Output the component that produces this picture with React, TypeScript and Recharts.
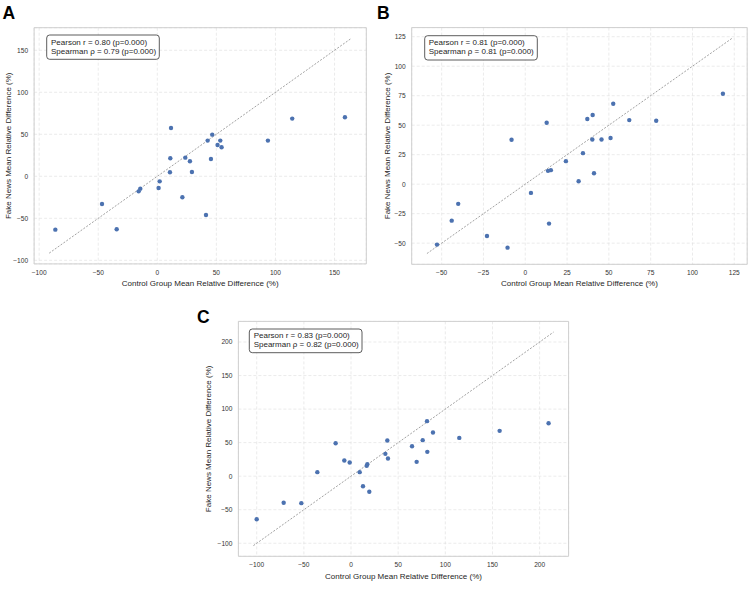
import React from 'react';
import { ScatterChart, Scatter, XAxis, YAxis, CartesianGrid, ReferenceLine, ReferenceArea } from 'recharts';

// Panel A
const ctrlA = [-86.3, -46.8, -34.4, -15.8, -14.4, 1.1, 2.0, 10.7, 11.0, 11.6, 21.2, 23.7, 27.6, 29.3, 41.2, 42.6, 45.4, 46.5, 51.0, 53.3, 54.4, 93.6, 114.2, 158.8];
const fakeA = [-63.5, -32.9, -63.1, -17.9, -14.7, -13.9, -6.0, 4.8, 21.4, 57.5, -25.0, 22.2, 17.9, 5.2, -46.0, 42.5, 20.6, 49.6, 37.3, 42.5, 34.5, 42.5, 68.7, 70.2];
const ticksA = [-100, -50, 0, 50, 100, 150];
const statsA = ['Pearson r = 0.80 (p=0.000)', 'Spearman \u03c1 = 0.79 (p=0.000)'];

// Panel B
const ctrlB = [-52.8, -44.0, -40.1, -22.9, -10.6, -8.2, 3.4, 12.8, 13.6, 15.3, 14.2, 24.3, 31.9, 34.5, 37.1, 40.1, 40.3, 41.1, 45.6, 51.0, 52.6, 62.2, 78.3, 118.2];
const fakeB = [-51.2, -30.9, -16.7, -43.9, -53.8, 37.6, -7.4, 52.1, 11.3, 11.9, -33.4, 19.5, 2.5, 26.3, 55.2, 37.9, 58.6, 9.3, 37.9, 39.1, 68.2, 54.3, 53.8, 76.7];
const ticksB = [-50, -25, 0, 25, 50, 75, 100, 125];
const statsB = ['Pearson r = 0.81 (p=0.000)', 'Spearman \u03c1 = 0.81 (p=0.000)'];

// Panel C
const ctrlC = [-100.0, -71.4, -52.7, -35.7, -16.3, -7.1, -1.4, 9.2, 12.7, 17.3, 16.6, 19.4, 36.4, 38.5, 39.2, 64.7, 69.6, 76.0, 80.6, 80.9, 86.9, 114.8, 157.6, 209.5];
const fakeC = [-64.1, -39.7, -40.2, 6.0, 49.2, 23.3, 20.4, 6.0, -14.9, 17.9, 15.4, -23.3, 33.3, 53.2, 26.3, 44.7, 21.4, 53.7, 82.0, 36.3, 65.1, 57.1, 67.6, 79.0];
const ticksC = [-100, -50, 0, 50, 100, 150, 200];
const statsC = ['Pearson r = 0.83 (p=0.000)', 'Spearman \u03c1 = 0.82 (p=0.000)'];

const xLabel = 'Control Group Mean Relative Difference (%)';
const yLabel = 'Fake News Mean Relative Difference (%)';

const FONT = "'Liberation Sans', Arial, Helvetica, sans-serif";
const W = 748;
const H = 589;

type PanelProps = {
  ctrl: number[];
  fake: number[];
  ticks: number[];
  lineLo: number;
  lineHi: number;
  left: number;
  right: number;
  top: number;
  bottom: number;
};

const fmt = (v: number) => String(v).replace('-', '\u2212');

function Panel({ ctrl, fake, ticks, lineLo, lineHi, left, right, top, bottom }: PanelProps) {
  const span = lineHi - lineLo;
  const lo = lineLo - span * 0.05;
  const hi = lineHi + span * 0.05;
  const data = ctrl.map((x, i) => ({ x, y: fake[i] }));
  const yw = 30;
  const xh = 30;
  const tickStyle = { fontSize: 6.6, fill: '#333', fontFamily: FONT };
  return (
    <div style={{ position: 'absolute', left: 0, top: 0 }}>
      <ScatterChart
        width={W}
        height={H}
        margin={{ top, left: left - yw, right: W - right, bottom: H - bottom - xh }}
      >
        <CartesianGrid stroke="#dedede" strokeDasharray="3 2" strokeWidth={0.6} />
        <XAxis
          type="number"
          dataKey="x"
          domain={[lo, hi]}
          ticks={ticks}
          allowDataOverflow
          interval={0}
          height={xh}
          tickLine={false}
          axisLine={false}
          tickSize={0}
          tickMargin={6.5}
          tick={tickStyle}
          tickFormatter={fmt}
        />
        <YAxis
          type="number"
          dataKey="y"
          domain={[lo, hi]}
          ticks={ticks}
          allowDataOverflow
          interval={0}
          width={yw}
          tickLine={false}
          axisLine={false}
          tickSize={0}
          tickMargin={6}
          tick={tickStyle}
          tickFormatter={fmt}
        />
        <ReferenceLine
          segment={[{ x: lineLo, y: lineLo }, { x: lineHi, y: lineHi }]}
          stroke="#8a8a8a"
          strokeWidth={0.8}
          strokeDasharray="2 1.5"
          ifOverflow="visible"
        />
        <Scatter
          data={data}
          isAnimationActive={false}
          shape={(p: any) => <circle cx={p.cx} cy={p.cy} r={2.2} fill="#4C72B0" />}
        />
        <ReferenceArea
          x1={lo}
          x2={hi}
          y1={lo}
          y2={hi}
          fill="none"
          fillOpacity={0}
          stroke="#cfcfcf"
          strokeWidth={1}
          ifOverflow="visible"
        />
      </ScatterChart>
    </div>
  );
}

function StatsBox({ x, y, w, h, lines, tx, b1 }: { x: number; y: number; w: number; h: number; lines: string[]; tx: number; b1: number }) {
  return (
    <g>
      <rect x={x} y={y} width={w} height={h} rx={3} ry={3} fill="#fff" fillOpacity={0.9} stroke="#333" strokeWidth={0.8} />
      <text x={tx} y={b1} fontSize={8} fill="#262626" fontFamily={FONT}>{lines[0]}</text>
      <text x={tx} y={b1 + 9} fontSize={8} fill="#262626" fontFamily={FONT}>{lines[1]}</text>
    </g>
  );
}

export default function App() {
  const A = { left: 34.1, right: 366.3, top: 27.7, bottom: 263.9 };
  const B = { left: 411.7, right: 747.2, top: 27.6, bottom: 264.3 };
  const C = { left: 238.4, right: 568.6, top: 321.4, bottom: 556.3 };
  const labelStyle = { fontSize: 8, fill: '#262626', fontFamily: FONT } as any;
  return (
    <div style={{ position: 'absolute', left: 0, top: 0, width: W, height: H, background: '#fff', overflow: 'hidden' }}>
      <Panel ctrl={ctrlA} fake={fakeA} ticks={ticksA} lineLo={-91.5} lineHi={164.1} {...A} />
      <Panel ctrl={ctrlB} fake={fakeB} ticks={ticksB} lineLo={-58.8} lineHi={123.6} {...B} />
      <Panel ctrl={ctrlC} fake={fakeC} ticks={ticksC} lineLo={-103.5} lineHi={214.8} {...C} />
      <svg width={W} height={H} style={{ position: 'absolute', left: 0, top: 0, pointerEvents: 'none' }}>
        <text x={2.5} y={18.7} fontSize={17.5} fontWeight="bold" fill="#000" fontFamily={FONT}>A</text>
        <text x={377} y={18.7} fontSize={17.5} fontWeight="bold" fill="#000" fontFamily={FONT}>B</text>
        <text x={197} y={323.3} fontSize={17.5} fontWeight="bold" fill="#000" fontFamily={FONT}>C</text>

        <text x={(A.left + A.right) / 2} y={285.5} textAnchor="middle" {...labelStyle}>{xLabel}</text>
        <text x={(B.left + B.right) / 2} y={285.5} textAnchor="middle" {...labelStyle}>{xLabel}</text>
        <text x={(C.left + C.right) / 2} y={578.5} textAnchor="middle" {...labelStyle}>{xLabel}</text>

        <text transform={`translate(10.5,${(A.top + A.bottom) / 2}) rotate(-90)`} textAnchor="middle" {...labelStyle}>{yLabel}</text>
        <text transform={`translate(389.5,${(B.top + B.bottom) / 2}) rotate(-90)`} textAnchor="middle" {...labelStyle}>{yLabel}</text>
        <text transform={`translate(211,${(C.top + C.bottom) / 2}) rotate(-90)`} textAnchor="middle" {...labelStyle}>{yLabel}</text>

        <StatsBox x={46.7} y={35} w={112.6} h={24.3} lines={statsA} tx={51} b1={44.8} />
        <StatsBox x={424.7} y={35.7} w={112.6} h={24.3} lines={statsB} tx={428.7} b1={45.4} />
        <StatsBox x={249.3} y={329} w={112.7} h={23.7} lines={statsC} tx={253.7} b1={337.8} />
      </svg>
    </div>
  );
}
